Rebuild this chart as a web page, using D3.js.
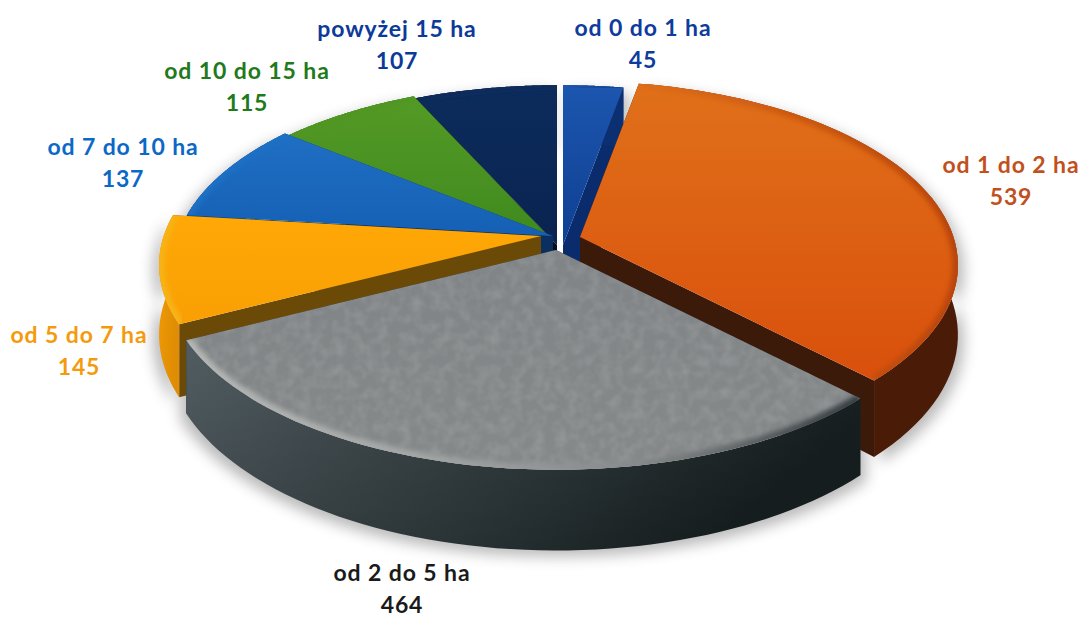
<!DOCTYPE html>
<html>
<head>
<meta charset="utf-8">
<script src="https://cdn.jsdelivr.net/npm/d3@7"></script>
<style>
  html, body { margin: 0; background: #fff; }
  text { font-family: Lato, "Noto Sans", sans-serif; font-weight: 700; text-anchor: middle; letter-spacing: 0.9px; }
</style>
</head>
<body>
<svg id="chart" width="1085" height="618"></svg>
<script>
const categories = ["od 0 do 1 ha", "od 1 do 2 ha", "od 2 do 5 ha", "od 5 do 7 ha", "od 7 do 10 ha", "od 10 do 15 ha", "powyżej 15 ha"];
const values = [45, 539, 464, 145, 137, 115, 107];

// slice looks, same order as categories
const topColors = [["#1c56ae", "#0f3f92"], ["#e0701a", "#d9500c"], ["#808486", "#86898a"], ["#ffa806", "#f99f04"], ["#1f6fc4", "#1560b4"], ["#549a26", "#3f8a1e"], ["#0c2c5c", "#0a2350"]];
const wallColors = [["#0c2f72", "#0c2f72"], ["#3c1708", "#4a1c08"], ["#525d62", "#151d1e"], ["#ee9a06", "#e08c04"], ["#0c3f80", "#0c3f80"], ["#24500f", "#24500f"], ["#061630", "#061630"]];
const cutColors = ["#0b2c6c", "#3c1a0a", "#20282b", "#6b4a08", "#0a2f60", "#12280a", "#040f20"];
const rimColors = [["#1c56ae", "#123f90"], ["#de6c18", "#b84408"], ["#b5b8b6", "#a4a7a6", "#878a8b", "#343c3f"], ["#f7b416", "#f7b416"], ["#1f6fc4", "#1f6fc4"], ["#4f9624", "#4f9624"], ["#0c2c5c", "#0c2c5c"]];
const labelColors = ["#0d3c9c", "#c2501c", "#1a1a1a", "#f59a0c", "#0b68c6", "#1f7a1c", "#0b3a98"];

// where each slice's apex ends up on the page, how far its rim reaches, and where its label sits
const apex = [[563, 245], [580, 237], [556, 250], [541, 236], [553, 236], [552, 240], [557, 245]];
const reach = [1, 0.97, 1, 0.98, 0.975, 0.975, 1];
const labelAt = [[643, 36], [1011, 173], [402, 581], [79, 343], [123, 155], [247, 79], [397, 37]];
const drawOrder = [6, 0, 5, 4, 3, 1, 2];

const radiusX = 385;
const radiusY = 185;
const persp = 0.158;
const depth = 68;

const svg = d3.select("#chart");
const defs = svg.append("defs");

const pie = d3.pie().sort(null).value(d => d)(values);
const line = d3.line().x(d => d[0]).y(d => d[1]);

function project(angle, r, i) {
    const X = Math.sin(angle) * r;
    const Y = -Math.cos(angle) * r;
    const s = 1 / (1 - persp * Y);
    return [apex[i][0] + radiusX * X * s, apex[i][1] + radiusY * Y * s, s];
}

function rimPoints(d, i) {
    const n = 60;
    return d3.range(n + 1).map(k => project(d.startAngle + (d.endAngle - d.startAngle) * k / n, reach[i], i));
}

function drop(p) {
    return [p[0], p[1] + depth * p[2]];
}

function addGradient(id, colors, x2, y2) {
    const g = defs.append("linearGradient").attr("id", id)
        .attr("x1", 0).attr("y1", 0).attr("x2", x2).attr("y2", y2);
    colors.forEach((c, k) => {
        g.append("stop").attr("offset", k / (colors.length - 1)).attr("stop-color", c);
    });
}

defs.append("filter").attr("id", "soft").attr("x", "-10%").attr("y", "-10%").attr("width", "120%").attr("height", "120%")
    .append("feGaussianBlur").attr("stdDeviation", 2.5);
defs.append("filter").attr("id", "shadow").attr("x", "-10%").attr("y", "-10%").attr("width", "120%").attr("height", "130%")
    .append("feGaussianBlur").attr("stdDeviation", 7);

// faint mottled scan texture for the grey top face
const grain = defs.append("filter").attr("id", "grain").attr("x", 0).attr("y", 0).attr("width", "100%").attr("height", "100%");
grain.append("feTurbulence").attr("type", "fractalNoise").attr("baseFrequency", 0.09).attr("numOctaves", 2).attr("seed", 4).attr("result", "noise");
grain.append("feColorMatrix").attr("in", "noise").attr("type", "matrix")
    .attr("values", "0 0 0 0 0.42  0 0 0 0 0.43  0 0 0 0 0.44  0.6 0 0 0 -0.22").attr("result", "spots");
grain.append("feComposite").attr("in", "spots").attr("in2", "SourceAlpha").attr("operator", "in").attr("result", "clipped");
const merge = grain.append("feMerge");
merge.append("feMergeNode").attr("in", "SourceGraphic");
merge.append("feMergeNode").attr("in", "clipped");

pie.forEach((d, i) => {
    addGradient("top" + i, topColors[i], 0, 1);
    addGradient("wall" + i, wallColors[i], 1, 0.4);
    addGradient("rim" + i, rimColors[i], 1, 0);
    defs.append("clipPath").attr("id", "clip" + i)
        .append("path").attr("d", line([[apex[i][0], apex[i][1]], ...rimPoints(d, i)]) + "Z");
});

// soft shadow under the whole pie
const shadowGroup = svg.append("g").attr("filter", "url(#shadow)").attr("opacity", 0.45);
pie.forEach((d, i) => {
    const rim = rimPoints(d, i);
    shadowGroup.append("path")
        .attr("d", line(rim.concat(rim.map(drop).reverse()).map(p => [p[0] + (p[0] > 560 ? 6 : -6), p[1] + 6])) + "Z")
        .attr("fill", "#666");
});

drawOrder.forEach(i => {
    const d = pie[i];
    const rim = rimPoints(d, i);
    const centre = [apex[i][0], apex[i][1], 1];
    const g = svg.append("g");

    // cut faces, from the apex out to both ends of the rim
    [rim[0], rim[rim.length - 1]].forEach(end => {
        g.append("path")
            .attr("d", line([centre, end, drop(end), drop(centre)]) + "Z")
            .attr("fill", cutColors[i]);
    });

    g.append("path")
        .attr("d", line(rim.concat(rim.map(drop).reverse())) + "Z")
        .attr("fill", `url(#wall${i})`);

    g.append("path")
        .attr("d", line([centre, ...rim]) + "Z")
        .attr("fill", `url(#top${i})`)
        .attr("filter", i === 2 ? "url(#grain)" : null);

    // rounded edge of the top face
    g.append("g").attr("clip-path", `url(#clip${i})`)
        .append("path")
        .attr("d", line(rim))
        .attr("fill", "none")
        .attr("stroke", `url(#rim${i})`)
        .attr("stroke-width", 11)
        .attr("filter", "url(#soft)");
});

const labels = svg.append("g");
categories.forEach((name, i) => {
    const t = labels.append("text")
        .attr("transform", `translate(${labelAt[i][0]},${labelAt[i][1]})`)
        .attr("fill", labelColors[i])
        .attr("font-size", 23);
    t.append("tspan").attr("x", 0).attr("y", 0).text(name);
    t.append("tspan").attr("x", 0).attr("y", 32).text(values[i]);
});
</script>
</body>
</html>
